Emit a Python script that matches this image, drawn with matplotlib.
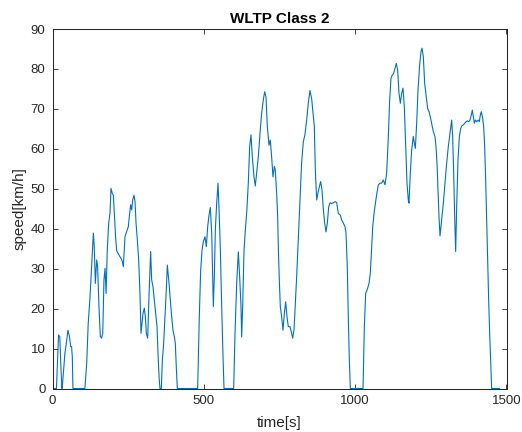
import matplotlib
matplotlib.use("Agg")
import matplotlib.pyplot as plt
import numpy as np

# WLTP class 2 speed trace
# low phase
t_low = [0, 13, 17, 20, 24, 28, 31, 32, 36, 41, 47, 51, 56, 60, 63, 65.5, 67.5,
         107, 113, 118, 124, 129, 135, 138, 141.5, 146, 149, 153.6, 158, 162, 166,
         170, 173.5, 177, 181, 185.6, 190, 193.3, 197.7, 201, 204.3, 208.7, 212,
         219.7, 226.3, 230.7, 234, 239.5, 245, 250.5, 255, 258.3, 261.6, 265, 269.3,
         272.6, 276, 280.3, 284.7, 289, 292.4, 294.6, 299, 303.4, 306.7, 310, 314.4,
         318.8, 322.1, 324.3, 327.6, 332, 336.5, 341, 345.3, 348.6, 352, 355, 359.6,
         363, 367.3, 371.7, 376, 379.4, 385, 389.3, 393.7, 398, 402.5, 405.8, 409,
         412.4, 479.6, 485, 489.6, 494, 498.4, 504, 508.3, 512.7, 517, 521.5, 526,
         529, 531.4, 534.7, 538, 542.4, 546.8, 550, 554.6, 559, 563.4, 566.7]
v_low = [0, 0, 8, 13.4, 13, 5, 0, 0, 3.8, 8.8, 12.1, 14.6, 13, 10.5, 10.5, 7.9, 0,
         0, 6.3, 16.3, 23, 30.1, 38.9, 35.5, 26.3, 32.2, 30.5, 20.5, 13, 12.6, 13.8,
         27.2, 30.1, 23.8, 34.7, 41.4, 43.9, 50.1, 48.8, 48.4, 43.9, 37.6, 34.5,
         33.4, 32.6, 31.8, 30.5, 38, 39.3, 40.5, 43.9, 46, 44.7, 47.2, 48.4,
         46.8, 41.4, 37.2, 32.2, 23.8, 13.8, 15.5, 18.8, 20.1, 18, 13.8, 12.6,
         23, 29.7, 34.3, 27.2, 25.5, 22.1, 18.8, 15.5, 8.8, 3, 0, 0,
         7.1, 11.3, 18, 24.7, 30.9, 26.3, 22.1, 18, 14.6, 13, 11.3, 5.4,
         0, 0, 17.9, 29.7, 34.6, 36.8, 38, 35.5, 40.5, 43.4, 45.3, 38.9,
         28, 20.5, 28, 39.7, 46.3, 51.4, 45.5, 34.6, 20.5, 7.9, 0]

# medium phase
t_mid = [598.6, 603, 608.5, 614, 618.4, 622.8, 625, 628.3, 632.8, 637, 642, 647,
         651.4, 655.8, 660.2, 665.7, 670, 674.5, 680, 685.6, 691, 696.6, 701, 705.4,
         709.8, 715.3, 719.7, 724, 728.5, 733, 736, 740.6, 744, 746, 749.4, 752.7,
         757, 761.6, 766, 770.4, 774.8, 779, 784.7, 789, 793.5, 798, 802.3, 806.7,
         812, 817.7, 823, 828.7, 834, 839.7, 845, 850.7, 856.3, 861.8, 865, 868.4,
         872.8, 877, 881.6, 886, 890.4, 895, 899.3, 903.7, 908, 912.5, 917, 922.4,
         928, 934.5, 939, 944.4, 951, 955.4, 961, 966.4, 969.7, 974, 977.5, 980.8, 984]
v_mid = [0, 13.8, 26.3, 34.2, 28, 20.5, 12.9, 20.5, 34.6, 39.5, 44.5, 51.5,
         60.6, 63.5, 58, 53, 50.7, 53.9, 58, 63.9, 68.9, 72.3, 74.3, 73,
         65.6, 60.9, 62.2, 58, 53, 55.6, 54.7, 48.9, 43, 35.5, 27.2, 20.5,
         18, 14.6, 18.8, 21.7, 18, 15.5, 15.5, 14.2, 12.6, 14.7, 21.3, 28,
         37.2, 47.2, 56.4, 61.8, 63.5, 67.2, 71.4, 74.6, 72.5, 68, 65.6, 54.7,
         47.2, 48.9, 50.5, 51.8, 49.7, 44.7, 41.4, 39.2, 41.4, 45.5, 46.5, 46.3,
         46.5, 46.8, 46.5, 43.8, 43.4, 42.2, 41.4, 40.5, 38.9, 30.5, 17.1, 7.1, 0]

# high phase
t_high = [1026, 1030.3, 1034.7, 1040, 1045.7, 1050, 1054.5, 1058, 1062.3, 1066.7,
          1071, 1076.5, 1082, 1087.5, 1093, 1098.5, 1104, 1109.6, 1114, 1118.4,
          1122.8, 1127.2, 1131.6, 1136, 1140.4, 1144.8, 1149.2, 1153.6, 1158, 1162.4,
          1166.8, 1171.2, 1175.6, 1177.8, 1182.2, 1186.6, 1192, 1195.5, 1198.8, 1203.2,
          1207.6, 1213, 1217.5, 1220.8, 1225.2, 1229.6, 1235, 1239.5, 1244, 1248.3,
          1252.7, 1258.2, 1263.7, 1267, 1270.4, 1273.7, 1277, 1280.3, 1285.8, 1291.3,
          1296.8, 1302.3, 1307.8, 1313.3, 1318.9, 1322.1, 1325.5, 1328.8, 1332, 1335.4,
          1339.8, 1344.2, 1348.6, 1353, 1357.4, 1361.8, 1366.2, 1370.6, 1375, 1379.4,
          1383.8, 1387.1, 1390.4, 1393.7, 1397, 1401.4, 1405.8, 1410.2, 1413.6, 1416.9,
          1421.3, 1424.6, 1427.9, 1431.2, 1434.5, 1437.8, 1441.1, 1444.4, 1447.7, 1451,
          1477]
v_high = [0, 15.5, 23.8, 24.8, 26.3, 28.8, 35.5, 40.5, 43.8, 46.3,
          48.5, 51, 51.4, 51.4, 52.2, 51, 53.9, 63.1, 72.3, 77.7,
          78.5, 78.9, 80.2, 81.4, 79.7, 73.9, 71.4, 73.9, 75.2, 70.6,
          60.6, 51.4, 47.2, 46.4, 53.9, 59.7, 63.1, 61.4, 60.1, 66.4,
          74.7, 81, 84.3, 85.2, 83.1, 76.4, 73, 70.1, 69.3, 68,
          66.4, 64.3, 63.1, 60.6, 56.4, 49.7, 43, 38.2, 42.2, 46.4,
          51.4, 56.4, 60.6, 63.9, 67.2, 63.1, 53.9, 43, 34.3, 45.5,
          57.2, 63.1, 65.1, 65.8, 66, 66.4, 66.8, 67, 66.8, 67.2,
          68.5, 69.7, 68, 66.4, 67.2, 66.8, 67.2, 66.8, 68.5, 69.3,
          67.6, 65.5, 60.6, 52.2, 42.2, 32.2, 22.1, 13.8, 7.1, 0,
          0]

time_s = np.array(t_low + t_mid + t_high)
speed = np.array(v_low + v_mid + v_high)

plt.rcParams['font.family'] = ['Liberation Sans', 'DejaVu Sans']

fig = plt.figure(figsize=(5.22, 4.32), dpi=100)
ax = fig.add_axes([52.5 / 522, 1 - 388.5 / 432, 454 / 522, 359.5 / 432])

ax.plot(time_s, speed, color="#0072BD", lw=0.8)

ax.set_xlim(0, 1500)
ax.set_ylim(0, 90)
ax.set_xticks([0, 500, 1000, 1500])
ax.set_yticks(range(0, 91, 10))

dark = "#262626"
for s in ax.spines.values():
    s.set_color(dark)
    s.set_linewidth(0.75)
ax.tick_params(direction="in", length=3.5, width=0.6, color=dark,
               labelcolor=dark, labelsize=9.5, top=True, right=True, pad=5)

ax.set_title("WLTP Class 2", fontsize=11, fontweight="bold", color="black", pad=4)
ax.set_xlabel("time[s]", fontsize=11, color=dark, labelpad=6)
ax.set_ylabel("speed[km/h]", fontsize=11, color=dark, labelpad=3)

fig.savefig("out.png", dpi=100)
